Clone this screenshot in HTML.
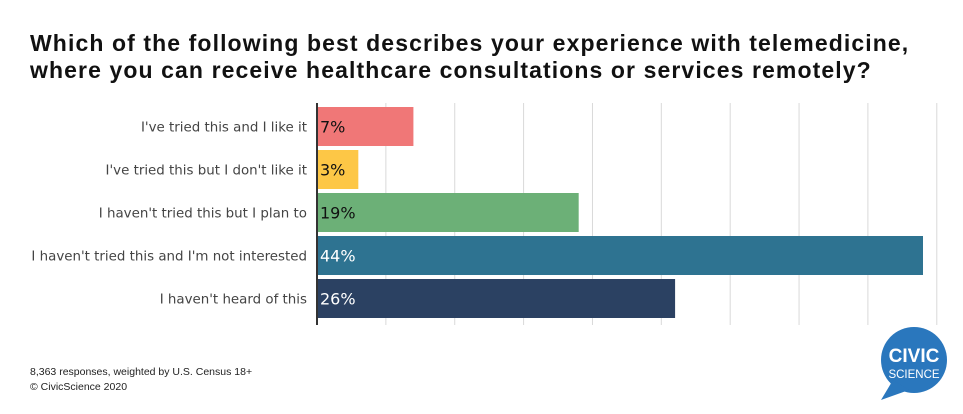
<!DOCTYPE html>
<html><head><meta charset="utf-8"><style>
body{margin:0;background:#fff;font-family:"Liberation Sans","DejaVu Sans",sans-serif;}
#wrap{position:relative;width:963px;height:414px;overflow:hidden;}
h1{position:absolute;left:30px;top:30px;margin:0;font-size:23px;letter-spacing:1.1px;line-height:27px;font-weight:bold;color:#111;}
.note{position:absolute;left:30px;font-size:10.5px;color:#222;}
</style></head><body>
<div id="wrap">
<h1>Which of the following best describes your experience with telemedicine,<br>where you can receive healthcare consultations or services remotely?</h1>
<svg id="chart" width="963" height="414" style="position:absolute;left:0;top:0"></svg>
<div class="note" style="top:366px">8,363 responses, weighted by U.S. Census 18+</div>
<div class="note" style="top:381px">© CivicScience 2020</div>
<svg width="90" height="90" style="position:absolute;left:873px;top:320px">
<circle cx="41" cy="40" r="33" fill="#2a77bd"/>
<polygon points="20,60 8,80 36,70" fill="#2a77bd"/>
<text x="41" y="42" text-anchor="middle" font-size="19" font-weight="bold" fill="#fff" font-family="Liberation Sans,sans-serif">CIVIC</text>
<text x="41" y="58" text-anchor="middle" font-size="11.5" fill="#fff" font-family="Liberation Sans,sans-serif">SCIENCE</text>
</svg>
</div>
<script>
const categories=["I've tried this and I like it","I've tried this but I don't like it","I haven't tried this but I plan to","I haven't tried this and I'm not interested","I haven't heard of this"];
const values=[7,3,19,44,26];
const labels=["7%","3%","19%","44%","26%"];
const colors=["#f07777","#fdc746","#6cb077","#2e7391","#2b4162"];
const textColors=["#111","#111","#111","#fff","#fff"];
const gridTicks=[5,10,15,20,25,30,35,40,45];
const svg=document.getElementById('chart');
const NS='http://www.w3.org/2000/svg';
const x0=317,pxPer=606/44,top0=107,band=43,bh=39;
const X=v=>x0+v*pxPer;
const Y=i=>top0+i*band;
function mk(t,a){const e=document.createElementNS(NS,t);for(const k in a)e.setAttribute(k,a[k]);svg.appendChild(e);return e;}
gridTicks.forEach(t=>{
 const l=mk('line',{x1:X(t),x2:X(t),y1:103,y2:325,stroke:'#d9d9d9','stroke-width':1});
 
 
});
categories.forEach((c,i)=>{
 const r=mk('rect',{x:x0,y:Y(i),width:X(values[i])-x0,height:bh,fill:colors[i]});
 
 
 const lt=mk('text',{x:307,y:Y(i)+bh/2+5,'text-anchor':'end','font-size':13.4,fill:'#444','font-family':'DejaVu Sans,sans-serif'});
 lt.textContent=c;
 
 
 const vt=mk('text',{x:x0+3,y:Y(i)+bh/2+6,'font-size':16,fill:textColors[i],'font-family':'DejaVu Sans,sans-serif'});
 vt.textContent=labels[i];
 
 
});
const ax=mk('line',{x1:x0,x2:x0,y1:103,y2:325,stroke:'#333','stroke-width':2});


</script>
</body></html>
